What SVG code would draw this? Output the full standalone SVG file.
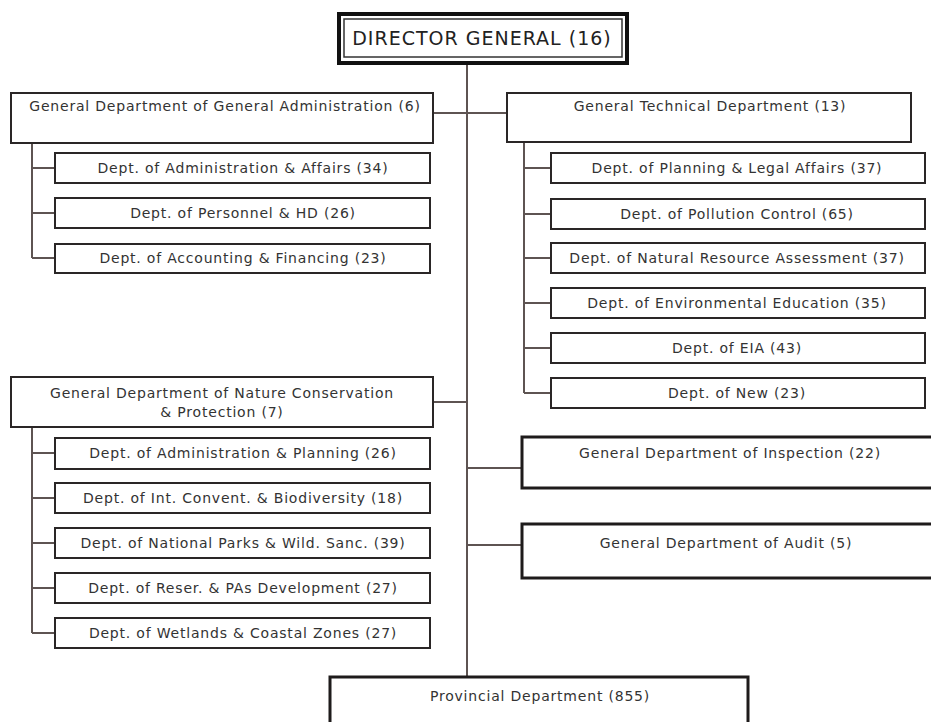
<svg xmlns="http://www.w3.org/2000/svg" width="931" height="722" viewBox="0 0 931 722">
<style>
.box{fill:#fff;stroke:#2a2626;stroke-width:2}
.gbox{fill:#fff;stroke:#1e1b1b;stroke-width:3}
.ln{fill:none;stroke:#5e5452;stroke-width:2}
text{font-family:"DejaVu Sans",Verdana,sans-serif;font-size:14px;letter-spacing:0.8px;fill:#333;text-anchor:middle}
.dg{font-size:19px;letter-spacing:1px;fill:#222}
</style>
<rect width="931" height="722" fill="#fff"/>
<g id="connectors">
<path class="ln" d="M467,64 V680"/>
<path class="ln" d="M433,113 H507"/>
<path class="ln" d="M433,402 H467"/>
<path class="ln" d="M467,468 H521"/>
<path class="ln" d="M467,545 H521"/>
<path class="ln" d="M32,143 V258 M32,168 H55 M32,213 H55 M32,258 H55"/>
<path class="ln" d="M524,143 V393 M524,168 H551 M524,214 H551 M524,258 H551 M524,303 H551 M524,348 H551 M524,393 H551"/>
<path class="ln" d="M32,427 V633 M32,453 H55 M32,498 H55 M32,543 H55 M32,588 H55 M32,633 H55"/>
</g>
<g id="director">
<rect x="339" y="14" width="288" height="49" fill="#fff" stroke="#111" stroke-width="4"/>
<rect x="344" y="19" width="278" height="38" fill="none" stroke="#333" stroke-width="1.5"/>
<text class="dg" x="482" y="45">DIRECTOR GENERAL (16)</text>
</g>
<g id="gdga">
<rect class="box" x="11" y="93" width="422" height="50"/>
<text x="225" y="111">General Department of General Administration (6)</text>
</g>
<g id="gdga1"><rect class="box" x="55" y="153" width="375" height="30"/><text x="243" y="173">Dept. of Administration &amp; Affairs (34)</text></g>
<g id="gdga2"><rect class="box" x="55" y="198" width="375" height="30"/><text x="243" y="218">Dept. of Personnel &amp; HD (26)</text></g>
<g id="gdga3"><rect class="box" x="55" y="244" width="375" height="29"/><text x="243" y="263">Dept. of Accounting &amp; Financing (23)</text></g>
<g id="gtd">
<rect class="box" x="507" y="93" width="404" height="49"/>
<text x="710" y="111">General Technical Department (13)</text>
</g>
<g id="gtd1"><rect class="box" x="551" y="153" width="374" height="30"/><text x="737" y="173">Dept. of Planning &amp; Legal Affairs (37)</text></g>
<g id="gtd2"><rect class="box" x="551" y="199" width="374" height="30"/><text x="737" y="219">Dept. of Pollution Control (65)</text></g>
<g id="gtd3"><rect class="box" x="551" y="243" width="374" height="30"/><text x="737" y="263">Dept. of Natural Resource Assessment (37)</text></g>
<g id="gtd4"><rect class="box" x="551" y="288" width="374" height="30"/><text x="737" y="308">Dept. of Environmental Education (35)</text></g>
<g id="gtd5"><rect class="box" x="551" y="333" width="374" height="30"/><text x="737" y="353">Dept. of EIA (43)</text></g>
<g id="gtd6"><rect class="box" x="551" y="378" width="374" height="30"/><text x="737" y="398">Dept. of New (23)</text></g>
<g id="gdncp">
<rect class="box" x="11" y="377" width="422" height="50"/>
<text x="222" y="398">General Department of Nature Conservation</text>
<text x="222" y="417">&amp; Protection (7)</text>
</g>
<g id="gdncp1"><rect class="box" x="55" y="438" width="375" height="31"/><text x="243" y="458">Dept. of Administration &amp; Planning (26)</text></g>
<g id="gdncp2"><rect class="box" x="55" y="483" width="375" height="30"/><text x="243" y="503">Dept. of Int. Convent. &amp; Biodiversity (18)</text></g>
<g id="gdncp3"><rect class="box" x="55" y="528" width="375" height="30"/><text x="243" y="548">Dept. of National Parks &amp; Wild. Sanc. (39)</text></g>
<g id="gdncp4"><rect class="box" x="55" y="573" width="375" height="30"/><text x="243" y="593">Dept. of Reser. &amp; PAs Development (27)</text></g>
<g id="gdncp5"><rect class="box" x="55" y="618" width="375" height="30"/><text x="243" y="638">Dept. of Wetlands &amp; Coastal Zones (27)</text></g>
<g id="inspection">
<rect class="gbox" x="522" y="437" width="420" height="51"/>
<text x="730" y="458">General Department of Inspection (22)</text>
</g>
<g id="audit">
<rect class="gbox" x="522" y="524" width="420" height="54"/>
<text x="726" y="548">General Department of Audit (5)</text>
</g>
<g id="provincial">
<rect class="gbox" x="330" y="677" width="418" height="60"/>
<text x="540" y="701">Provincial Department (855)</text>
</g>
</svg>
